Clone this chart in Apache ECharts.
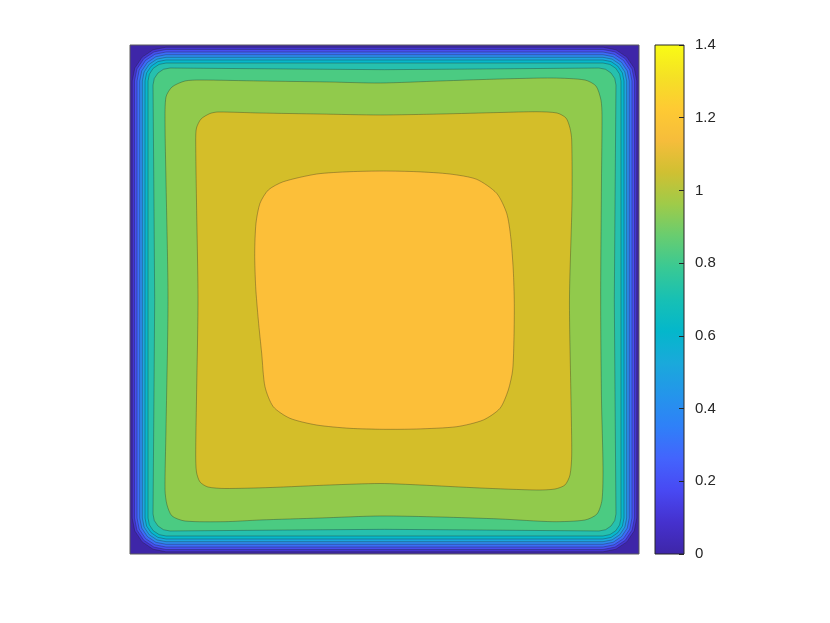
<!DOCTYPE html>
<html>
<head>
<meta charset="utf-8">
<script src="https://cdn.jsdelivr.net/npm/echarts@6/dist/echarts.min.js"></script>
<style>
  html, body { margin: 0; padding: 0; background: #fff; }
  #chart { width: 830px; height: 623px; }
</style>
</head>
<body>
<div id="chart"></div>
<script>
// filled contour levels (lower bound of each band)
const levels = [0, 0.1, 0.2, 0.3, 0.4, 0.5, 0.6, 0.7, 0.8, 0.9, 1.0, 1.1];

// colorbar ticks
const colorbarTicks = [0, 0.2, 0.4, 0.6, 0.8, 1, 1.2, 1.4];

// contour outlines, plate coordinates 0..100 (x right, y up)
const contour00 = [[0, 0], [100, 0], [100, 100], [0, 100]];
const contour01 = [[0.43,92.93],[0.94,95.47],[2.38,97.62],[4.53,99.06],[7.07,99.57],
  [92.93,99.57],[95.47,99.06],[97.62,97.62],[99.06,95.47],[99.57,92.93],
  [99.57,7.07],[99.06,4.53],[97.62,2.38],[95.47,0.94],[92.93,0.43],
  [7.07,0.43],[4.53,0.94],[2.38,2.38],[0.94,4.53],[0.43,7.07]];
const contour02 = [[0.88,92.93],[1.36,95.30],[2.70,97.30],[4.70,98.64],[7.07,99.12],
  [92.93,99.12],[95.30,98.64],[97.30,97.30],[98.64,95.30],[99.12,92.93],
  [99.12,7.07],[98.64,4.70],[97.30,2.70],[95.30,1.36],[92.93,0.88],
  [7.07,0.88],[4.70,1.36],[2.70,2.70],[1.36,4.70],[0.88,7.07]];
const contour03 = [[1.38,92.93],[1.81,95.11],[3.04,96.96],[4.89,98.19],[7.07,98.62],
  [92.93,98.62],[95.11,98.19],[96.96,96.96],[98.19,95.11],[98.62,92.93],
  [98.62,7.07],[98.19,4.89],[96.96,3.04],[95.11,1.81],[92.93,1.38],
  [7.07,1.38],[4.89,1.81],[3.04,3.04],[1.81,4.89],[1.38,7.07]];
const contour04 = [[1.91,92.93],[2.30,94.91],[3.42,96.58],[5.09,97.70],[7.07,98.09],
  [92.93,98.09],[94.91,97.70],[96.58,96.58],[97.70,94.91],[98.09,92.93],
  [98.09,7.07],[97.70,5.09],[96.58,3.42],[94.91,2.30],[92.93,1.91],
  [7.07,1.91],[5.09,2.30],[3.42,3.42],[2.30,5.09],[1.91,7.07]];
const contour05 = [[2.42,92.93],[2.77,94.71],[3.78,96.22],[5.29,97.23],[7.07,97.58],
  [92.93,97.58],[94.71,97.23],[96.22,96.22],[97.23,94.71],[97.58,92.93],
  [97.58,7.07],[97.23,5.29],[96.22,3.78],[94.71,2.77],[92.93,2.42],
  [7.07,2.42],[5.29,2.77],[3.78,3.78],[2.77,5.29],[2.42,7.07]];
const contour06 = [[2.95,92.93],[3.26,94.51],[4.16,95.84],[5.49,96.74],[7.07,97.05],
  [92.93,97.05],[94.51,96.74],[95.84,95.84],[96.74,94.51],[97.05,92.93],
  [97.05,7.07],[96.74,5.49],[95.84,4.16],[94.51,3.26],[92.93,2.95],
  [7.07,2.95],[5.49,3.26],[4.16,4.16],[3.26,5.49],[2.95,7.07]];
const contour07 = [[3.54,92.93],[3.81,94.28],[4.57,95.43],[5.72,96.19],[7.07,96.46],
  [92.93,96.46],[94.28,96.19],[95.43,95.43],[96.19,94.28],[96.46,92.93],
  [96.46,7.07],[96.19,5.72],[95.43,4.57],[94.28,3.81],[92.93,3.54],
  [7.07,3.54],[5.72,3.81],[4.57,4.57],[3.81,5.72],[3.54,7.07]];
const contour08 = [[4.52,92.14],[4.77,93.42],[5.50,94.50],[6.58,95.23],[7.86,95.48],
  [30,95.3],[50,95.15],[70,95.3],
  [92.14,95.48],[93.42,95.23],[94.50,94.50],[95.23,93.42],[95.48,92.14],
  [95.3,70],[95.15,50],[95.3,30],
  [95.48,7.86],[95.23,6.58],[94.50,5.50],[93.42,4.77],[92.14,4.52],
  [70,4.7],[50,4.85],[30,4.7],
  [7.86,4.52],[6.58,4.77],[5.50,5.50],[4.77,6.58],[4.52,7.86],
  [4.7,30],[4.85,50],[4.7,70]];
const contour09 = [[13.75,93.12],[25.54,92.93],[39.29,92.73],[49.12,92.53],[60.90,92.93],[72.69,93.32],[83.10,93.51],
  [89.39,93.12],[91.55,91.94],[92.53,89.19],
  [92.73,86.25],[92.63,73.48],[92.47,49.90],[92.63,30.25],[92.93,17.09],
  [92.73,10.61],[91.75,7.86],[89.39,6.68],
  [83.10,6.35],[72.69,6.88],[60.90,7.27],[49.12,7.47],[37.33,7.07],[25.54,6.68],[18.66,6.35],
  [10.81,6.48],[8.25,7.47],[7.27,9.63],
  [6.88,12.57],[7.07,24.36],[7.47,49.90],[7.07,73.48],[6.88,84.67],
  [7.07,89.78],[8.25,91.75],[10.81,92.93]];
const contour10 = [[17.29,86.84],[25.54,86.64],[37.33,86.44],[49.12,86.25],[60.90,86.44],[72.69,86.74],[79.96,86.89],
  [83.89,86.64],[85.66,85.66],[86.44,83.69],
  [86.78,81.33],[86.84,69.55],[86.34,49.90],[86.64,30.25],[86.78,19.45],
  [86.44,15.52],[85.46,13.56],[83.50,12.77],
  [79.96,12.57],[68.76,12.97],[56.97,13.56],[49.12,13.85],[39.29,13.56],[27.50,13.06],[18.66,12.87],
  [15.32,13.16],[13.75,14.15],[13.06,16.11],
  [12.91,19.45],[13.06,30.25],[13.36,49.90],[13.06,69.55],[12.91,81.33],
  [13.06,83.69],[13.95,85.46],[15.72,86.54]];
const contour11 = [[30.12,73.14],[36.68,74.65],[43.22,75.11],[49.76,75.24],[56.32,75.11],[62.87,74.65],[68.11,73.61],
  [72.04,70.86],[74.01,66.93],
  [74.79,62.34],[75.30,55.79],[75.50,49.25],[75.44,42.69],[75.18,36.15],[74.32,32.22],
  [72.69,28.62],[69.41,26.33],[64.18,25.01],
  [56.32,24.56],[49.76,24.50],[43.22,24.69],[36.68,25.34],[31.43,26.66],
  [28.15,28.94],[26.52,32.87],
  [25.87,39.43],[25.21,45.97],[24.69,52.51],[24.50,59.08],[24.75,64.97],[25.54,68.90],
  [27.17,71.51]];

const contours = [contour00, contour01, contour02, contour03, contour04, contour05,
  contour06, contour07, contour08, contour09, contour10, contour11];

// fill colour of each band (parula)
const bandColors = ['#3E26A8', '#4535D3', '#4650F0', '#3C6CF8', '#2C8CEE', '#1CA6DF',
  '#08B8CB', '#26C0AE', '#4BCB82', '#91CA4C', '#D4BE29', '#FCBF39'];

// parula stops for the colorbar, from top (1.4) to bottom (0)
const parulaStops = ['#F9FB15', '#F5E125', '#FECA33', '#F6BD3B', '#D0C032', '#9FCB49',
  '#68CD70', '#39C994', '#17C0B4', '#04B7CB', '#1AA9DB', '#2495EB', '#2F80F8',
  '#4364FD', '#4849F3', '#4531CE', '#3E26A8'];

const chart = echarts.init(document.getElementById('chart'), null, { renderer: 'canvas' });

const gradient = new echarts.graphic.LinearGradient(0, 0, 0, 1,
  parulaStops.map((c, i) => ({ offset: i / (parulaStops.length - 1), color: c })));

function renderBand(params, api) {
  const idx = api.value(0);
  const pts = contours[idx].map(p => api.coord(p));
  return {
    type: 'polygon',
    shape: { points: pts, smooth: idx >= 9 ? 0.25 : 0 },
    style: {
      fill: bandColors[idx],
      stroke: idx > 0 ? 'rgba(30,30,30,0.55)' : 'none',
      lineWidth: 0.6
    }
  };
}

const option = {
  animation: false,
  backgroundColor: '#fff',
  grid: [
    { left: 130, top: 45, width: 509, height: 509, show: true, z: 10,
      backgroundColor: 'rgba(0,0,0,0)', borderColor: '#5a5a5a', borderWidth: 1 },
    { left: 655, top: 45, width: 29, height: 509, show: true, z: 10,
      backgroundColor: 'rgba(0,0,0,0)', borderColor: '#262626', borderWidth: 1 }
  ],
  xAxis: [
    { gridIndex: 0, type: 'value', min: 0, max: 100, show: false },
    { gridIndex: 1, type: 'category', data: ['c'], show: false }
  ],
  yAxis: [
    { gridIndex: 0, type: 'value', min: 0, max: 100, show: false },
    {
      gridIndex: 1, type: 'value', min: colorbarTicks[0],
      max: colorbarTicks[colorbarTicks.length - 1], interval: 0.2,
      position: 'right', z: 11,
      axisLine: { show: false },
      axisTick: { show: true, inside: true, length: 5, lineStyle: { color: '#262626', width: 1 } },
      splitLine: { show: false },
      axisLabel: { margin: 11, color: '#262626', fontSize: 15, fontFamily: 'Liberation Sans, Arial, sans-serif' }
    }
  ],
  series: [
    {
      type: 'custom',
      xAxisIndex: 0,
      yAxisIndex: 0,
      silent: true,
      renderItem: renderBand,
      data: levels.map((lv, i) => [i, lv])
    },
    {
      type: 'bar',
      xAxisIndex: 1,
      yAxisIndex: 1,
      silent: true,
      barWidth: '100%',
      itemStyle: { color: gradient },
      data: [colorbarTicks[colorbarTicks.length - 1]]
    }
  ]
};

chart.setOption(option);
</script>
</body>
</html>
